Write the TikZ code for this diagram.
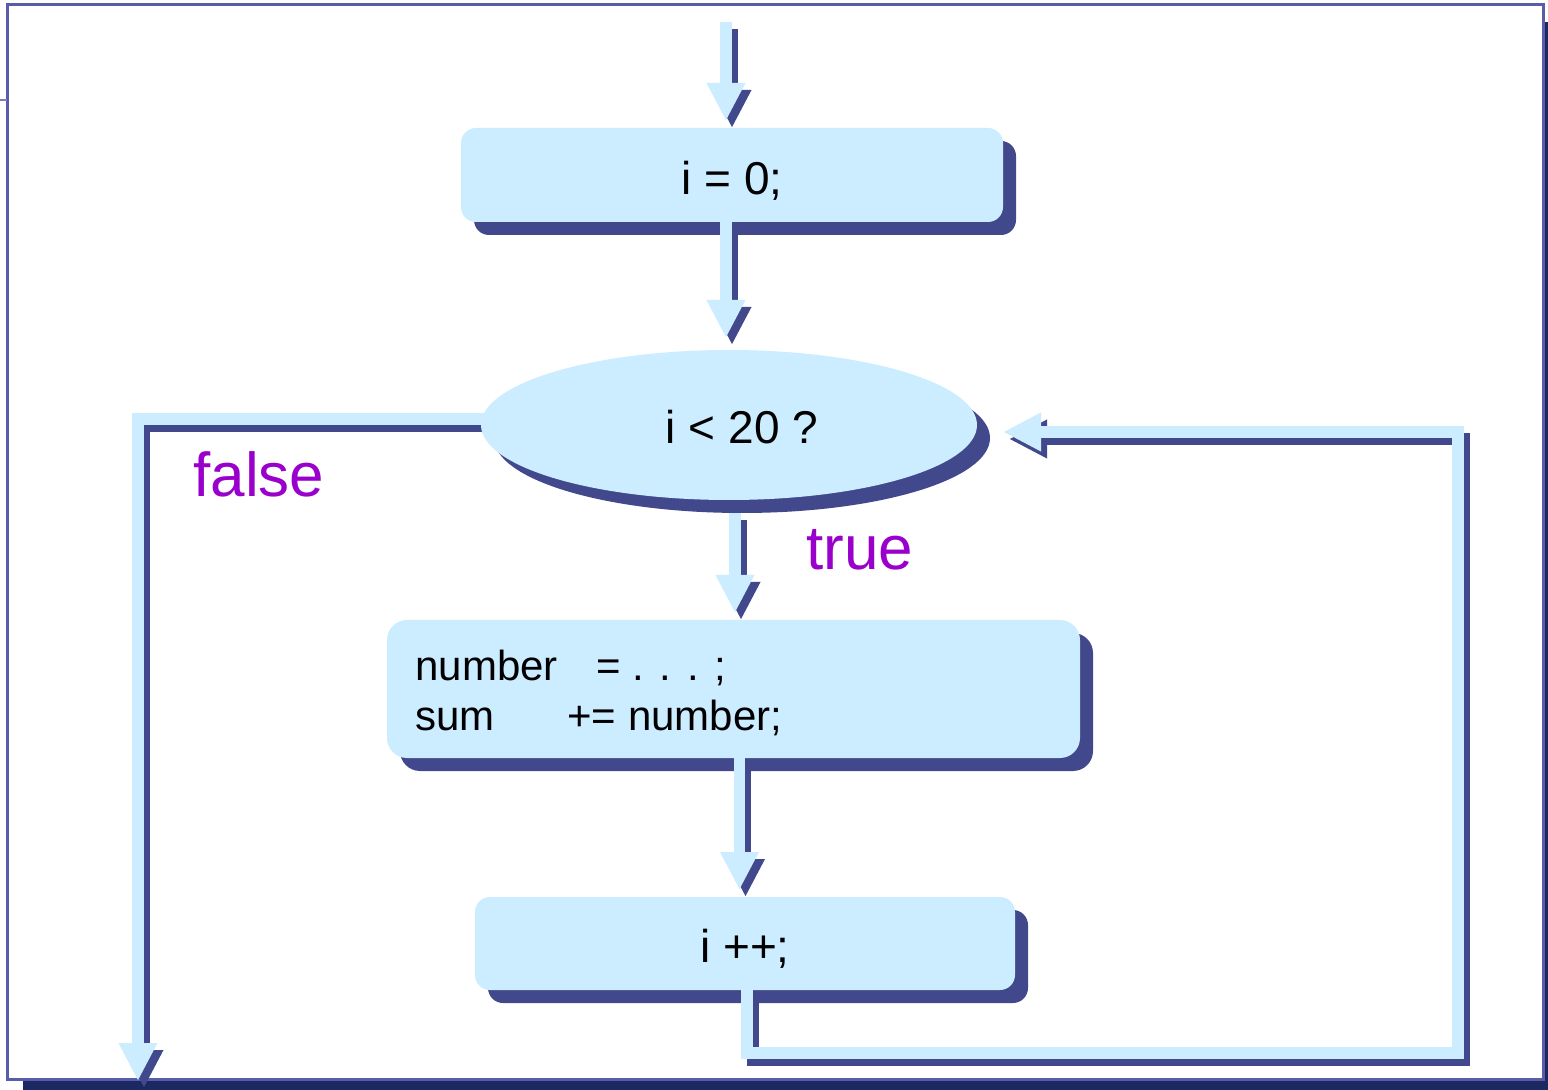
\documentclass[tikz,border=0pt]{standalone}
\usepackage{fontspec}
\setmainfont{Liberation Sans}
\usetikzlibrary{arrows.meta,shapes.geometric,calc}

\definecolor{boxfill}{RGB}{204,236,255}
\definecolor{boxshade}{RGB}{66,72,140}
\definecolor{framec}{RGB}{88,92,170}
\definecolor{framedark}{RGB}{28,40,96}
\definecolor{labelc}{RGB}{153,0,204}

\pgfdeclarelayer{bg}
\pgfdeclarelayer{flows}
\pgfsetlayers{bg,flows,main}

\tikzset{
  block/.style={rectangle, fill=boxfill, inner sep=0pt, outer sep=0pt},
  decision/.style={ellipse, fill=boxfill, inner sep=0pt, outer sep=0pt,
    minimum width=248pt, minimum height=75pt},
  flow/.style={draw=boxfill, line width=5.8pt, line join=miter,
    -{Triangle[width=18pt,length=19pt]},
    preaction={draw=boxshade, line width=5.8pt, line join=miter,
      transform canvas={xshift=3pt,yshift=-3.5pt}}},
  code/.style={font=\fontsize{23pt}{27pt}\selectfont, inner sep=0pt, anchor=base},
  codeline/.style={font=\fontsize{21pt}{25pt}\selectfont, inner sep=0pt, anchor=base west},
  branch/.style={font=\fontsize{31pt}{36pt}\selectfont, text=labelc, inner sep=0pt, anchor=base west},
}

\begin{document}
\begin{tikzpicture}[x=0.5pt, y=-0.5pt]
\useasboundingbox (0,0) rectangle (1548,1090);

% flowchart blocks
\node[block, rounded corners=7.5pt, minimum width=271pt, minimum height=47pt] (init) at (732,175) {};
\node[decision] (cond) at (729,425) {};
\node[block, rounded corners=10pt, minimum width=346.5pt, minimum height=69pt] (body) at (733.5,689) {};
\node[block, rounded corners=7.5pt, minimum width=270pt, minimum height=46.5pt] (incr) at (745,943.5) {};

% block texts
\node[code] (initT) at (732,195) {i = 0;};
\node[code] (condT) at (742,444) {i < 20 ?};
\node[code] (incrT) at (745,962) {i ++;};
\node[codeline] (bodyA) at (415,681) {number};
\node[codeline] (bodyB) at (596,681) {= . . . ;};
\node[codeline] (bodyC) at (415,731) {sum};
\node[codeline] (bodyD) at (567,731) {+= number;};

% branch labels
\node[branch] (no) at (193,497) {false};
\node[branch] (yes) at (806,570) {true};

% free ends of the flow lines
\coordinate (entry) at (726,22);
\coordinate (exit) at (138,1081);
\coordinate (loopcorner) at (1458,1053);

% page frame and block shadows
\begin{pgfonlayer}{bg}
  \fill[white] (0,0) rectangle (1548,1090);
  \fill[framedark] (23,1079) rectangle (1548,1090);
  \fill[framedark] (1543,22) rectangle (1548,1090);
  \draw[framec, line width=1.5pt] (7,5) rectangle (1543,1079);
  \draw[framec!80, line width=1pt] (0,100) -- (7,100);
  \fill[boxshade, rounded corners=7.5pt] ([shift={(13,13)}]init.north west) rectangle ([shift={(13,13)}]init.south east);
  \fill[boxshade] ([shift={(13,13)}]cond.center) ellipse [x radius=124pt, y radius=37.5pt];
  \fill[boxshade, rounded corners=10pt] ([shift={(13,13)}]body.north west) rectangle ([shift={(13,13)}]body.south east);
  \fill[boxshade, rounded corners=7.5pt] ([shift={(13,13)}]incr.north west) rectangle ([shift={(13,13)}]incr.south east);
\end{pgfonlayer}

% flow lines
\begin{pgfonlayer}{flows}
  \draw[flow] (entry) -- ($(init.north)+(-6,-7)$);
  \draw[flow] ($(init.south)+(-6,0)$) -- ($(cond.north)+(-3,-12)$);
  \draw[flow] ($(cond.south)+(6,13)$) -- ($(body.north)+(1.5,-7)$);
  \draw[flow] ($(cond.west)+(10,-6)$) -| (exit);
  \draw[flow] ($(body.south)+(6,0)$) -- ($(incr.north)+(-5.5,-7)$);
  \draw[flow] ($(incr.south)+(2,0)$) |- (loopcorner) |- ($(cond.east)+(26,7)$);
\end{pgfonlayer}
\end{tikzpicture}
\end{document}
